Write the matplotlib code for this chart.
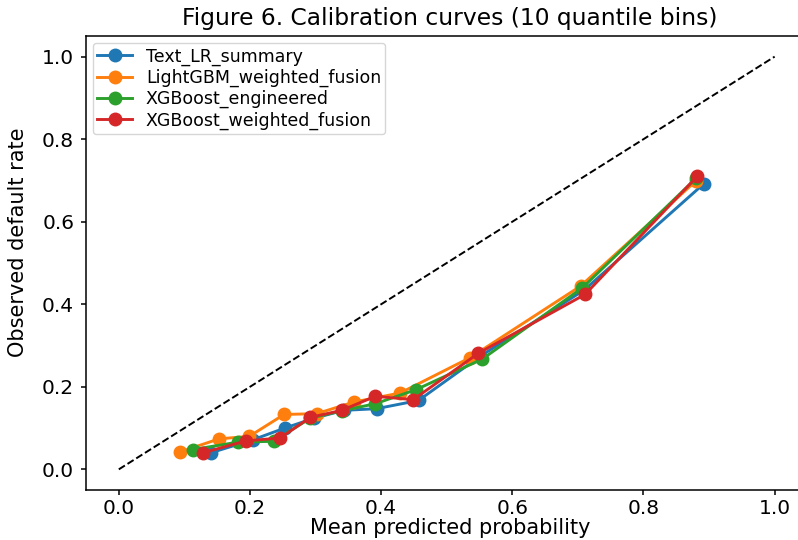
import matplotlib
matplotlib.use("Agg")
import matplotlib.pyplot as plt

# mean predicted probability / observed default rate per quantile bin
models = ["Text_LR_summary", "LightGBM_weighted_fusion",
          "XGBoost_engineered", "XGBoost_weighted_fusion"]
colors = ["#1f77b4", "#ff7f0e", "#2ca02c", "#d62728"]

lr_pred = [0.140, 0.205, 0.253, 0.298, 0.343, 0.393, 0.457, 0.551, 0.710, 0.892]
lr_obs = [0.040, 0.072, 0.100, 0.124, 0.143, 0.147, 0.167, 0.274, 0.435, 0.692]

lgb_pred = [0.093, 0.153, 0.199, 0.252, 0.302, 0.358, 0.429, 0.536, 0.704, 0.880]
lgb_obs = [0.042, 0.074, 0.080, 0.133, 0.135, 0.163, 0.185, 0.271, 0.444, 0.699]

xgb_pred = [0.113, 0.182, 0.236, 0.292, 0.340, 0.391, 0.453, 0.554, 0.707, 0.880]
xgb_obs = [0.048, 0.066, 0.068, 0.124, 0.142, 0.159, 0.193, 0.267, 0.440, 0.705]

xgbw_pred = [0.128, 0.194, 0.246, 0.292, 0.340, 0.391, 0.449, 0.548, 0.711, 0.882]
xgbw_obs = [0.040, 0.069, 0.076, 0.126, 0.143, 0.177, 0.169, 0.281, 0.424, 0.710]

preds = [lr_pred, lgb_pred, xgb_pred, xgbw_pred]
obs = [lr_obs, lgb_obs, xgb_obs, xgbw_obs]

fig = plt.figure(figsize=(7.98, 5.40), dpi=100)
# right spine sits just past the image edge, as in the original crop
ax = fig.add_axes([86 / 798, 1 - 490 / 540, 728 / 798, 454 / 540])

# perfect calibration reference
ax.plot([0, 1], [0, 1], linestyle="--", color="black", linewidth=1.4)

for name, c, p, o in zip(models, colors, preds, obs):
    ax.plot(p, o, marker="o", markersize=9, linewidth=2.1, color=c, label=name)

ax.set_xlim(-0.05, 1.06)
ax.set_ylim(-0.05, 1.05)
ax.set_title("Figure 6. Calibration curves (10 quantile bins)", fontsize=16.8, pad=8)
ax.set_xlabel("Mean predicted probability", fontsize=15, labelpad=0)
ax.set_ylabel("Observed default rate", fontsize=15)
ax.yaxis.set_label_coords(-0.080, 0.546)
ax.tick_params(labelsize=14.5, length=3.5, width=1.1, pad=5)
ax.tick_params(axis="x", pad=3)
for s in ax.spines.values():
    s.set_linewidth(1.1)

ax.legend(loc="upper left", fontsize=12.5, labelspacing=0.18,
          borderpad=0.25, borderaxespad=0.4)

fig.savefig("out.png", dpi=100)
